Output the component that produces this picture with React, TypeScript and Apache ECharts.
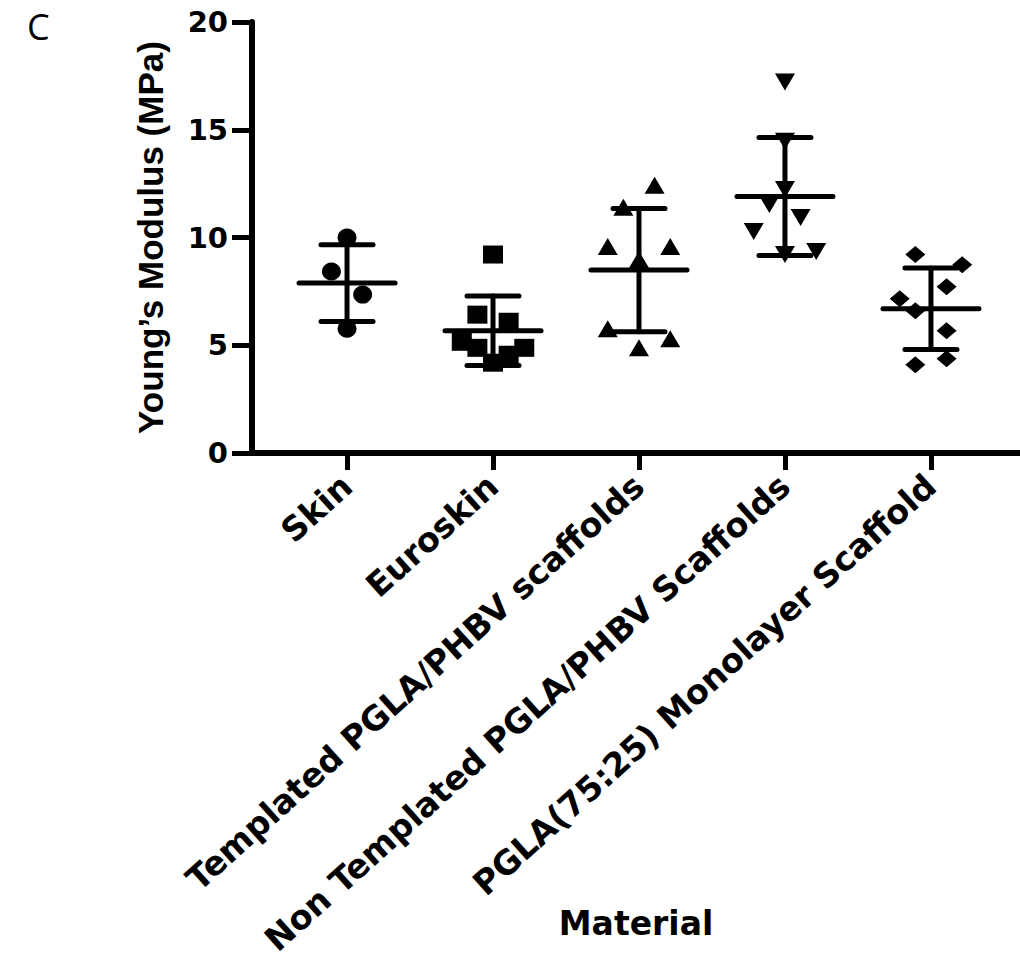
import React, { useEffect, useRef } from "react";
import * as echarts from "echarts";

const categories = [
  "Skin",
  "Euroskin",
  "Templated PGLA/PHBV scaffolds",
  "Non Templated PGLA/PHBV Scaffolds",
  "PGLA(75:25) Monolayer Scaffold",
];

// Young's modulus values (MPa) for each point
const skinValues = [10.0, 8.42, 7.35, 5.77];
const euroskinValues = [9.21, 6.42, 6.09, 5.16, 4.88, 4.88, 4.56, 4.19];
const templatedValues = [12.42, 11.4, 9.58, 9.58, 8.98, 5.77, 5.3, 4.88];
const nonTemplatedValues = [17.21, 14.47, 12.23, 11.53, 10.93, 10.28, 9.21, 9.35];
const pglaValues = [9.21, 8.74, 7.72, 7.16, 6.6, 5.67, 4.09, 4.37];

// horizontal scatter steps (jitter) of each point
const skinJitter = [0, -1, 1, 0];
const euroskinJitter = [0, -1, 1, -2, -1, 2, 1, 0];
const templatedJitter = [1, -1, -2, 2, 0, -2, 2, 0];
const nonTemplatedJitter = [0, 0, 0, -1, 1, -2, 0, 2];
const pglaJitter = [-1, 2, 1, -2, -1, 1, -1, 1];

const yTicks = [0, 5, 10, 15, 20];

const groups = [
  { values: skinValues, jitter: skinJitter, symbol: "circle", size: [19, 18], rotate: 0 },
  { values: euroskinValues, jitter: euroskinJitter, symbol: "rect", size: [20, 18], rotate: 0 },
  { values: templatedValues, jitter: templatedJitter, symbol: "triangle", size: [20, 17], rotate: 0 },
  { values: nonTemplatedValues, jitter: nonTemplatedJitter, symbol: "triangle", size: [20, 17], rotate: 180 },
  { values: pglaValues, jitter: pglaJitter, symbol: "diamond", size: [20, 17], rotate: 0 },
];

const JITTER_STEP = 0.107;

function meanSd(v: number[]) {
  const m = v.reduce((a, b) => a + b, 0) / v.length;
  const s = Math.sqrt(v.reduce((a, b) => a + (b - m) * (b - m), 0) / (v.length - 1));
  return [m, s];
}

const FONT = "'Liberation Sans', Arial, sans-serif";
const WIDE = "'DejaVu Sans', sans-serif";

export default function App() {
  const ref = useRef<HTMLDivElement>(null);
  useEffect(() => {
    document.body.style.margin = "0";
    if (!ref.current) return;
    const chart = echarts.init(ref.current, null, { renderer: "svg" });

    const scatterSeries = groups.map((g, gi) => ({
      type: "scatter",
      symbol: g.symbol,
      symbolSize: g.size,
      symbolRotate: g.rotate,
      itemStyle: { color: "#000", opacity: 1 },
      emphasis: { disabled: true },
      z: 2,
      data: g.values.map((v, i) => [gi + g.jitter[i] * JITTER_STEP, v]),
    }));

    const statData = groups.map((g, gi) => {
      const [m, s] = meanSd(g.values);
      return [gi, m, s];
    });

    const option: any = {
      animation: false,
      backgroundColor: "#fff",
      grid: {
        left: 252,
        top: 22,
        width: 768,
        height: 431,
        containLabel: false,
        outerBoundsMode: "none",
      },
      graphic: [
        {
          type: "text",
          left: 27,
          top: 8,
          style: {
            text: "C",
            fontSize: 36,
            fontFamily: "'Open Sans', sans-serif",
            fill: "#000",
          },
        },
      ],
      xAxis: {
        type: "value",
        min: -0.651,
        max: 4.61,
        name: "Material",
        nameLocation: "middle",
        nameGap: 454,
        nameMoveOverlap: false,
        nameTextStyle: { fontSize: 33, fontWeight: "bold", fontFamily: WIDE, color: "#000" },
        splitLine: { show: false },
        axisLine: { show: true, onZero: false, lineStyle: { color: "#000", width: 6 } },
        axisTick: {
          show: true,
          customValues: [0, 1, 2, 3, 4],
          length: 17,
          lineStyle: { color: "#000", width: 5 },
        },
        axisLabel: {
          customValues: [0, 1, 2, 3, 4],
          formatter: (v: number) => categories[Math.round(v)] ?? "",
          rotate: 42,
          margin: 28,
          fontSize: 33.5,
          fontWeight: "bold",
          fontFamily: WIDE,
          color: "#000",
        },
      },
      yAxis: {
        type: "value",
        min: yTicks[0],
        max: yTicks[yTicks.length - 1],
        interval: 5,
        name: "Young\u2019s Modulus (MPa)",
        nameLocation: "middle",
        nameGap: 84,
        nameMoveOverlap: false,
        nameTextStyle: { fontSize: 35, fontWeight: "bold", fontFamily: FONT, color: "#000" },
        splitLine: { show: false },
        axisLine: { show: true, onZero: false, lineStyle: { color: "#000", width: 6 } },
        axisTick: { show: true, length: 20, lineStyle: { color: "#000", width: 5 } },
        axisLabel: {
          margin: 24,
          fontSize: 29,
          fontWeight: "bold",
          fontFamily: WIDE,
          color: "#000",
        },
      },
      series: [
        ...scatterSeries,
        {
          type: "custom",
          z: 3,
          data: statData,
          renderItem: (params: any, api: any) => {
            const x = api.value(0);
            const m = api.value(1);
            const s = api.value(2);
            const c = api.coord([x, m]);
            const t = api.coord([x, m + s]);
            const b = api.coord([x, m - s]);
            const st = { stroke: "#000", lineWidth: 5, lineCap: "round" };
            return {
              type: "group",
              children: [
                { type: "line", shape: { x1: c[0], y1: t[1], x2: c[0], y2: b[1] }, style: st },
                { type: "line", shape: { x1: c[0] - 26, y1: t[1], x2: c[0] + 26, y2: t[1] }, style: st },
                { type: "line", shape: { x1: c[0] - 26, y1: b[1], x2: c[0] + 26, y2: b[1] }, style: st },
                { type: "line", shape: { x1: c[0] - 48, y1: c[1], x2: c[0] + 48, y2: c[1] }, style: st },
              ],
            };
          },
        },
      ],
    };
    chart.setOption(option);
    return () => chart.dispose();
  }, []);
  return <div ref={ref} style={{ width: 1020, height: 969 }} />;
}
